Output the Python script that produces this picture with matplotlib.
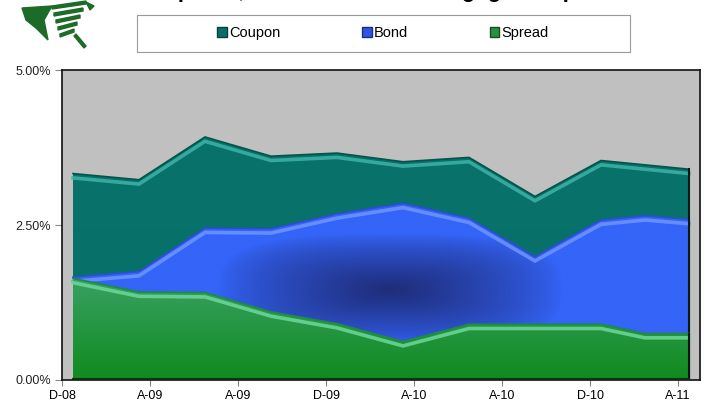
import numpy as np
import matplotlib
matplotlib.use("Agg")
import matplotlib.pyplot as plt
from matplotlib.patches import Patch, Rectangle, Polygon
from matplotlib.colors import to_rgb

plt.rcParams['font.family'] = ['Liberation Sans', 'DejaVu Sans']

# ---- data (percent) ----
months = [0.5, 3.5, 6.5, 9.5, 12.5, 15.5, 18.5, 21.5, 24.5, 26.5, 28.5]  # months after Dec-08
coupon = [3.33, 3.23, 3.92, 3.61, 3.66, 3.52, 3.59, 2.96, 3.54, 3.47, 3.40]
bond = [1.66, 1.75, 2.45, 2.44, 2.68, 2.85, 2.61, 1.99, 2.58, 2.65, 2.59]
spread = [1.64, 1.42, 1.41, 1.10, 0.91, 0.62, 0.90, 0.90, 0.90, 0.75, 0.75]
tick_pos = [0, 4, 8, 12, 16, 20, 24, 28]
tick_labels = ["D-08", "A-09", "A-09", "D-09", "A-10", "A-10", "D-10", "A-11"]
y_ticks = [0.0, 2.5, 5.0]
y_labels = ["0.00%", "2.50%", "5.00%"]
series_names = ["Coupon", "Bond", "Spread"]
title = "Spread, Bond Rate and Mortgage Coupon"

x = np.array(months)
W, H = 713, 405
fig = plt.figure(figsize=(W / 100, H / 100), dpi=100)
fig.patch.set_facecolor("white")

ax = fig.add_axes([62 / W, 25 / H, 638 / W, 310 / H])
ax.set_facecolor("#c0c0c0")
ax.set_xlim(0, 29)
ax.set_ylim(0, 5)

ext = [0, 29, 0, 5]
ny, nx = 300, 600
gx = np.linspace(0, 29, nx)
gy = np.linspace(0, 5, ny)
GX, GY = np.meshgrid(gx, gy)


def grad_image(c_a, c_b, t):
    a = np.array(to_rgb(c_a)); b = np.array(to_rgb(c_b))
    return a[None, None, :] * (1 - t[..., None]) + b[None, None, :] * t[..., None]


def area(vals, img, z, hl_color, edge_color):
    poly = ax.fill_between(x, 0, vals, facecolor="none", edgecolor="none", zorder=z)
    im = ax.imshow(img, extent=ext, origin="lower", aspect="auto", zorder=z,
                   interpolation="bilinear")
    path = poly.get_paths()[0]
    im.set_clip_path(path, ax.transData)
    ax.plot(x, vals, color=edge_color, lw=1.2, zorder=z + 0.2, solid_joinstyle="miter")
    ax.plot(x, np.array(vals) - 0.07, color=hl_color, lw=2.6, alpha=0.85,
            zorder=z + 0.1, solid_joinstyle="miter")
    # right-hand dark side face
    ax.plot([x[-1], x[-1]], [0, vals[-1]], color="#0a1a10", lw=1.5, zorder=z + 0.2)


# Coupon: teal
t = np.clip((5 - GY) / 5, 0, 1) * 0.3
img_c = grad_image("#08736c", "#06665f", t)
area(coupon, img_c, 2, "#3fb3a8", "#05534d")

# Bond: blue with dark rounded-rectangular centre
p = 3.0
r = ((np.abs(GX - 14.9) / 7.8) ** p + (np.abs(GY - 1.45) / 0.9) ** p) ** (1 / p)
t = np.clip(1 - r, 0, 1) ** 0.75
img_b = grad_image("#3464f8", "#1f2d7a", t)
area(bond, img_b, 3, "#6f95ff", "#2a4fd0")

# Spread: green vertical gradient
t = np.clip(GY / 1.6, 0, 1)
img_s = grad_image("#108a1e", "#38a062", t)
area(spread, img_s, 4, "#6fd89a", "#1f8a48")

# bottom dark floor line
ax.plot([x[0], x[-1]], [0.02, 0.02], color="#0a3010", lw=1.5, zorder=5)

ax.set_xticks(tick_pos)
ax.set_xticklabels(tick_labels, fontsize=9)
ax.set_yticks(y_ticks)
ax.set_yticklabels(y_labels, fontsize=9, color="#222222")
ax.tick_params(axis="both", direction="out", length=5, color="#888888", pad=3)
ax.tick_params(axis="x", length=4)
for s in ax.spines.values():
    s.set_color("#111111")
    s.set_linewidth(1.2)

# legend with its own frame
fig.add_artist(Rectangle((137 / W, 1 - 52 / H), (630 - 137) / W, 37 / H,
                         transform=fig.transFigure, facecolor="white",
                         edgecolor="#999999", lw=0.8))
handles = [Patch(facecolor="#0a6e68", edgecolor="#05403c"),
           Patch(facecolor="#2f55e0", edgecolor="#1a2f80"),
           Patch(facecolor="#2a9040", edgecolor="#145020")]
fig.legend(handles, series_names, loc="center", bbox_to_anchor=(383 / W, 1 - 33 / H),
           ncol=3, frameon=False, fontsize=10.5, handlelength=0.65, handleheight=0.65,
           handletextpad=0.15, columnspacing=5.6)

# title: mostly above the top edge, as in the reference
fig.text(383 / W, 1 + 2.5 / H, title,
         ha="center", va="baseline", fontsize=16, fontweight="bold")

# simple logo shape
lax = fig.add_axes([14 / W, 1 - 50 / H, 85 / W, 50 / H])
lax.set_xlim(0, 85); lax.set_ylim(0, 50); lax.axis("off")
g = "#1d6b28"
lax.add_patch(Polygon([[8, 42], [38, 44], [30, 30], [34, 10], [22, 22], [12, 30]], color=g))
for i, yy in enumerate([44, 37, 30, 23, 16]):
    lax.add_patch(Polygon([[38 + i * 2, yy], [72 - i * 3, yy + 5], [72 - i * 3, yy + 2], [38 + i * 2, yy - 3]], color=g))
lax.add_patch(Polygon([[60, 14], [70, 2], [72, 4], [62, 16]], color=g))
lax.add_patch(Polygon([[72, 48], [80, 44], [76, 40]], color=g))

fig.savefig("out.png", dpi=100)
